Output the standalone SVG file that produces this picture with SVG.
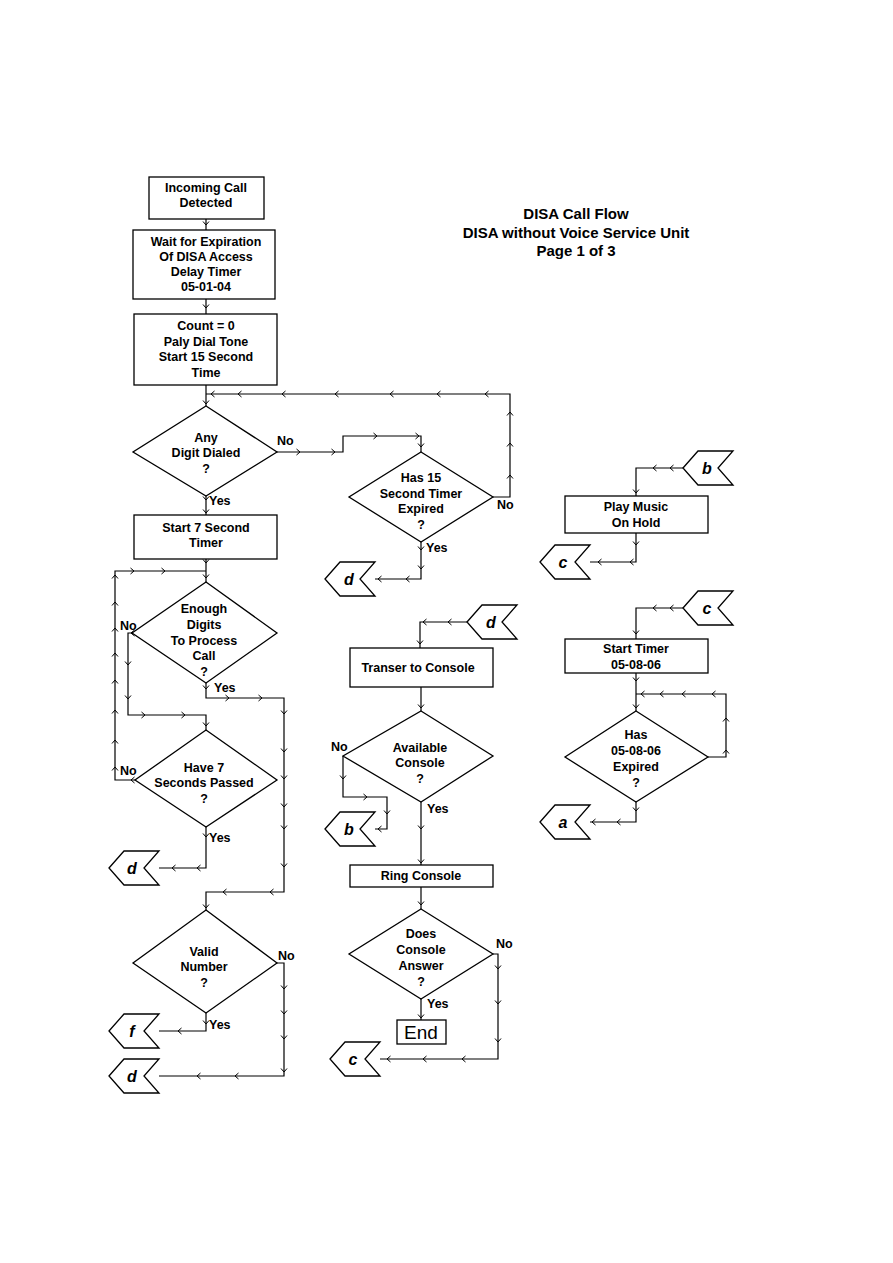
<svg xmlns="http://www.w3.org/2000/svg" xmlns:xlink="http://www.w3.org/1999/xlink" width="893" height="1263" viewBox="0 0 893 1263">
<style>
.b{fill:#fff;stroke:#000;stroke-width:1.3}
.t{font-family:"Liberation Sans",Arial,sans-serif;font-weight:bold;font-size:12.5px;text-anchor:middle;fill:#000}
.l{font-family:"Liberation Sans",Arial,sans-serif;font-weight:bold;font-size:12.5px;fill:#000}
.k{font-family:"Liberation Sans",Arial,sans-serif;font-weight:bold;font-style:italic;font-size:16px;text-anchor:middle;fill:#000}
.ti{font-family:"Liberation Sans",Arial,sans-serif;font-weight:bold;font-size:15px;text-anchor:middle;fill:#000}
.w{fill:none;stroke:#000;stroke-width:1.2}
.c{fill:none;stroke:#000;stroke-width:1}
</style>
<defs>
<path id="cl" class="c" d="M3.5,-3 L0,0 L3.5,3"/>
<path id="cr" class="c" d="M-3.5,-3 L0,0 L-3.5,3"/>
<path id="cd" class="c" d="M-3,-3.5 L0,0 L3,-3.5"/>
<path id="cu" class="c" d="M-3,3.5 L0,0 L3,3.5"/>
<polygon id="tag" class="b" points="0,0 15,-17 50,-17 35,0 50,17 15,17"/>
</defs>
<rect width="893" height="1263" fill="#fff"/>

<g id="title">
<text class="ti" x="576" y="219">DISA Call Flow</text>
<text class="ti" x="576" y="238">DISA without Voice Service Unit</text>
<text class="ti" x="576" y="256">Page 1 of 3</text>
</g>

<g id="connectors">
<polyline class="w" points="206,219 206,230"/>
<polyline class="w" points="206,299 206,314"/>
<polyline class="w" points="206,385 206,406"/>
<polyline class="w" points="206,394 510,394 510,497 493,497"/>
<polyline class="w" points="277,452 343,452 343,436 421,436 421,452"/>
<polyline class="w" points="206,496 206,515"/>
<polyline class="w" points="421,542 421,579 375,579"/>
<polyline class="w" points="206,559 206,582"/>
<polyline class="w" points="206,571 115,571 115,780 135,780"/>
<polyline class="w" points="132,633 128,633 128,715 206,715 206,730"/>
<polyline class="w" points="206,683 206,698 284,698 284,892 206,892 206,910"/>
<polyline class="w" points="206,827 206,868 159,868"/>
<polyline class="w" points="277,963 284,963 284,1076 159,1076"/>
<polyline class="w" points="206,1013 206,1031 159,1031"/>
<polyline class="w" points="467,622 420,622 420,648"/>
<polyline class="w" points="421,687 421,711"/>
<polyline class="w" points="343,756 343,797 387,797 387,829 375,829"/>
<polyline class="w" points="421,802 421,865"/>
<polyline class="w" points="421,887 421,909"/>
<polyline class="w" points="493,954 498,954 498,1059 380,1059"/>
<polyline class="w" points="421,999 421,1020"/>
<polyline class="w" points="683,468 636,468 636,496"/>
<polyline class="w" points="636,533 636,562 590,562"/>
<polyline class="w" points="683,608 636,608 636,639"/>
<polyline class="w" points="636,673 636,711"/>
<polyline class="w" points="636,694 726,694 726,757 708,757"/>
<polyline class="w" points="636,802 636,822 590,822"/>

<use href="#cd" x="206" y="225"/>
<use href="#cd" x="206" y="308"/>
<use href="#cd" x="206" y="404"/>
<use href="#cl" x="211" y="394"/><use href="#cl" x="238" y="394"/><use href="#cl" x="282" y="394"/><use href="#cl" x="335" y="394"/><use href="#cl" x="390" y="394"/><use href="#cl" x="437" y="394"/><use href="#cl" x="485" y="394"/>
<use href="#cu" x="510" y="412"/><use href="#cu" x="510" y="443"/><use href="#cu" x="510" y="475"/>
<use href="#cr" x="300" y="452"/><use href="#cr" x="335" y="452"/>
<use href="#cr" x="377" y="436"/><use href="#cr" x="419" y="436"/>
<use href="#cd" x="421" y="447"/>
<use href="#cd" x="206" y="500"/><use href="#cd" x="206" y="513"/>
<use href="#cd" x="421" y="550"/><use href="#cd" x="421" y="569"/>
<use href="#cl" x="378" y="579"/><use href="#cl" x="406" y="579"/>
<use href="#cd" x="206" y="563"/><use href="#cd" x="206" y="578"/>
<use href="#cr" x="134" y="571"/><use href="#cr" x="165" y="571"/>
<use href="#cu" x="115" y="575"/><use href="#cu" x="115" y="602"/><use href="#cu" x="115" y="628"/><use href="#cu" x="115" y="653"/><use href="#cu" x="115" y="680"/><use href="#cu" x="115" y="710"/><use href="#cu" x="115" y="740"/><use href="#cu" x="115" y="767"/>
<use href="#cl" x="131" y="633"/>
<use href="#cd" x="128" y="665"/><use href="#cd" x="128" y="699"/>
<use href="#cr" x="145" y="715"/><use href="#cr" x="185" y="715"/>
<use href="#cd" x="206" y="726"/>
<use href="#cd" x="206" y="689"/>
<use href="#cr" x="229" y="698"/><use href="#cr" x="262" y="698"/>
<use href="#cd" x="284" y="714"/><use href="#cd" x="284" y="752"/><use href="#cd" x="284" y="779"/><use href="#cd" x="284" y="807"/><use href="#cd" x="284" y="829"/><use href="#cd" x="284" y="867"/>
<use href="#cl" x="223" y="892"/><use href="#cl" x="270" y="892"/>
<use href="#cd" x="206" y="908"/>
<use href="#cl" x="131" y="780"/>
<use href="#cd" x="206" y="837"/>
<use href="#cl" x="172" y="868"/><use href="#cl" x="197" y="868"/>
<use href="#cd" x="284" y="989"/><use href="#cd" x="284" y="1014"/><use href="#cd" x="284" y="1039"/><use href="#cd" x="284" y="1072"/>
<use href="#cl" x="197" y="1076"/><use href="#cl" x="235" y="1076"/>
<use href="#cd" x="206" y="1024"/>
<use href="#cl" x="178" y="1031"/>
<use href="#cl" x="423" y="622"/><use href="#cl" x="448" y="622"/>
<use href="#cd" x="420" y="644"/>
<use href="#cd" x="421" y="708"/>
<use href="#cd" x="343" y="779"/>
<use href="#cr" x="367" y="797"/>
<use href="#cd" x="387" y="814"/>
<use href="#cl" x="378" y="829"/>
<use href="#cd" x="421" y="829"/>
<use href="#cd" x="421" y="863"/>
<use href="#cd" x="421" y="905"/>
<use href="#cd" x="498" y="969"/><use href="#cd" x="498" y="1004"/><use href="#cd" x="498" y="1042"/>
<use href="#cl" x="387" y="1059"/><use href="#cl" x="423" y="1059"/><use href="#cl" x="462" y="1059"/>
<use href="#cd" x="421" y="1018"/>
<use href="#cl" x="653" y="468"/><use href="#cl" x="670" y="468"/>
<use href="#cd" x="636" y="493"/>
<use href="#cd" x="636" y="545"/>
<use href="#cl" x="598" y="562"/><use href="#cl" x="630" y="562"/>
<use href="#cl" x="653" y="608"/><use href="#cl" x="670" y="608"/>
<use href="#cd" x="636" y="634"/>
<use href="#cd" x="636" y="681"/><use href="#cd" x="636" y="708"/>
<use href="#cl" x="641" y="694"/><use href="#cl" x="660" y="694"/><use href="#cl" x="682" y="694"/><use href="#cl" x="712" y="694"/>
<use href="#cu" x="726" y="718"/><use href="#cu" x="726" y="750"/>
<use href="#cd" x="636" y="811"/>
<use href="#cl" x="592" y="822"/><use href="#cl" x="617" y="822"/>
</g>

<g id="n_incoming">
<rect class="b" x="149" y="177" width="115" height="42"/>
<text class="t" x="206" y="192">Incoming Call</text>
<text class="t" x="206" y="207">Detected</text>
</g>
<g id="n_wait">
<rect class="b" x="133" y="230" width="142" height="69"/>
<text class="t" x="206" y="246">Wait for Expiration</text>
<text class="t" x="206" y="261">Of DISA Access</text>
<text class="t" x="206" y="276">Delay Timer</text>
<text class="t" x="206" y="291">05-01-04</text>
</g>
<g id="n_count">
<rect class="b" x="134" y="314" width="143" height="71"/>
<text class="t" x="206" y="330">Count = 0</text>
<text class="t" x="206" y="346">Paly Dial Tone</text>
<text class="t" x="206" y="361">Start 15 Second</text>
<text class="t" x="206" y="377">Time</text>
</g>
<g id="n_anydigit">
<polygon class="b" points="206,406 277,452 206,496 133,452"/>
<text class="t" x="206" y="442">Any</text>
<text class="t" x="206" y="457">Digit Dialed</text>
<text class="t" x="206" y="473">?</text>
<text class="l" x="277" y="445">No</text>
<text class="l" x="209" y="505">Yes</text>
</g>
<g id="n_has15">
<polygon class="b" points="421,452 493,497 421,542 349,497"/>
<text class="t" x="421" y="482">Has 15</text>
<text class="t" x="421" y="498">Second Timer</text>
<text class="t" x="421" y="513">Expired</text>
<text class="t" x="421" y="529">?</text>
<text class="l" x="497" y="509">No</text>
<text class="l" x="426" y="552">Yes</text>
</g>
<g id="n_start7">
<rect class="b" x="134" y="515" width="143" height="44"/>
<text class="t" x="206" y="532">Start 7 Second</text>
<text class="t" x="206" y="547">Timer</text>
</g>
<g id="n_enough">
<polygon class="b" points="206,582 277,633 206,683 132,633"/>
<text class="t" x="204" y="613">Enough</text>
<text class="t" x="204" y="629">Digits</text>
<text class="t" x="204" y="645">To Process</text>
<text class="t" x="204" y="660">Call</text>
<text class="t" x="204" y="676">?</text>
<text class="l" x="120" y="630">No</text>
<text class="l" x="214" y="692">Yes</text>
</g>
<g id="n_have7">
<polygon class="b" points="206,730 277,780 206,827 135,780"/>
<text class="t" x="204" y="772">Have 7</text>
<text class="t" x="204" y="787">Seconds Passed</text>
<text class="t" x="204" y="803">?</text>
<text class="l" x="120" y="775">No</text>
<text class="l" x="209" y="842">Yes</text>
</g>
<g id="n_valid">
<polygon class="b" points="206,910 277,963 206,1013 133,963"/>
<text class="t" x="204" y="956">Valid</text>
<text class="t" x="204" y="971">Number</text>
<text class="t" x="204" y="987">?</text>
<text class="l" x="278" y="960">No</text>
<text class="l" x="209" y="1029">Yes</text>
</g>
<g id="n_transfer">
<rect class="b" x="350" y="648" width="143" height="39"/>
<text class="t" x="418" y="672">Transer to Console</text>
</g>
<g id="n_available">
<polygon class="b" points="421,711 493,756 421,802 343,756"/>
<text class="t" x="420" y="752">Available</text>
<text class="t" x="420" y="767">Console</text>
<text class="t" x="420" y="783">?</text>
<text class="l" x="331" y="751">No</text>
<text class="l" x="427" y="813">Yes</text>
</g>
<g id="n_ring">
<rect class="b" x="350" y="865" width="143" height="22"/>
<text class="t" x="421" y="880">Ring Console</text>
</g>
<g id="n_answer">
<polygon class="b" points="421,909 493,954 421,999 349,954"/>
<text class="t" x="421" y="938">Does</text>
<text class="t" x="421" y="954">Console</text>
<text class="t" x="421" y="970">Answer</text>
<text class="t" x="421" y="986">?</text>
<text class="l" x="496" y="948">No</text>
<text class="l" x="427" y="1008">Yes</text>
</g>
<g id="n_end">
<rect class="b" x="397" y="1020" width="49" height="24"/>
<text x="421" y="1039" font-family="Liberation Sans, Arial, sans-serif" font-size="19" text-anchor="middle">End</text>
</g>
<g id="n_music">
<rect class="b" x="565" y="496" width="143" height="37"/>
<text class="t" x="636" y="511">Play Music</text>
<text class="t" x="636" y="527">On Hold</text>
</g>
<g id="n_starttimer">
<rect class="b" x="565" y="639" width="143" height="34"/>
<text class="t" x="636" y="653">Start Timer</text>
<text class="t" x="636" y="669">05-08-06</text>
</g>
<g id="n_has0508">
<polygon class="b" points="636,711 708,757 636,802 565,757"/>
<text class="t" x="636" y="739">Has</text>
<text class="t" x="636" y="755">05-08-06</text>
<text class="t" x="636" y="771">Expired</text>
<text class="t" x="636" y="787">?</text>
</g>

<g id="k_d1"><use href="#tag" x="325" y="579"/><text class="k" x="349" y="585">d</text></g>
<g id="k_d2"><use href="#tag" x="467" y="622"/><text class="k" x="491" y="628">d</text></g>
<g id="k_b1"><use href="#tag" x="325" y="829"/><text class="k" x="349" y="835">b</text></g>
<g id="k_c1"><use href="#tag" x="330" y="1059"/><text class="k" x="353" y="1065">c</text></g>
<g id="k_d3"><use href="#tag" x="109" y="868"/><text class="k" x="132" y="874">d</text></g>
<g id="k_f"><use href="#tag" x="109" y="1031"/><text class="k" x="132" y="1037">f</text></g>
<g id="k_d4"><use href="#tag" x="109" y="1076"/><text class="k" x="132" y="1082">d</text></g>
<g id="k_b2"><use href="#tag" x="683" y="468"/><text class="k" x="707" y="474">b</text></g>
<g id="k_c2"><use href="#tag" x="540" y="562"/><text class="k" x="563" y="568">c</text></g>
<g id="k_c3"><use href="#tag" x="683" y="608"/><text class="k" x="707" y="614">c</text></g>
<g id="k_a"><use href="#tag" x="540" y="822"/><text class="k" x="563" y="828">a</text></g>
</svg>
